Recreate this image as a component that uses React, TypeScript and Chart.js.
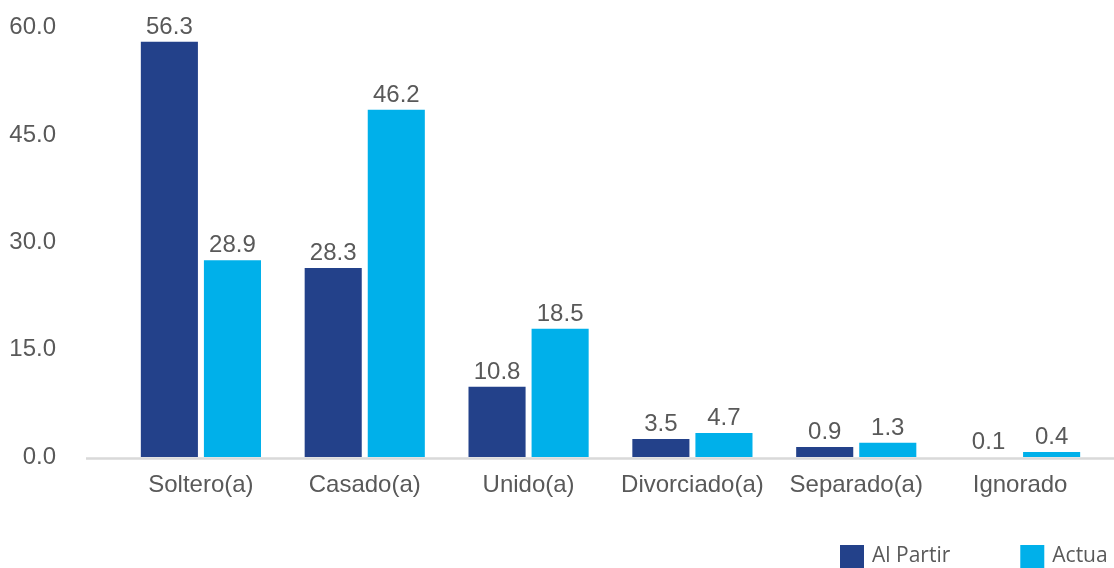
import React, { useEffect, useRef } from "react";
import { Chart, registerables } from "chart.js";

Chart.register(...registerables);

const categories = ["Soltero(a)", "Casado(a)", "Unido(a)", "Divorciado(a)", "Separado(a)", "Ignorado"];
const seriesNames = ["Al Partir", "Actua"];
// bar heights as drawn in the picture
const alPartirValues = [58.0, 26.4, 9.8, 2.5, 1.4, 0.0];
const actuaValues = [27.5, 48.5, 17.9, 3.35, 2.0, 0.7];
// value labels as printed in the picture
const alPartirLabels = ["56.3", "28.3", "10.8", "3.5", "0.9", "0.1"];
const actuaLabels = ["28.9", "46.2", "18.5", "4.7", "1.3", "0.4"];
const yTicks = [0, 15, 30, 45, 60];

const COLORS = ["#23418A", "#00B0EA"];
const TEXT = "#595959";
const FONT = "'Liberation Sans', Arial, sans-serif";

const valueLabelPlugin = {
  id: "valueLabels",
  afterDatasetsDraw(chart: any) {
    const ctx = chart.ctx;
    const labelSets = [alPartirLabels, actuaLabels];
    ctx.save();
    ctx.font = `24px ${FONT}`;
    ctx.fillStyle = TEXT;
    ctx.textAlign = "center";
    ctx.textBaseline = "alphabetic";
    chart.data.datasets.forEach((_ds: any, di: number) => {
      const meta = chart.getDatasetMeta(di);
      meta.data.forEach((bar: any, i: number) => {
        ctx.fillText(labelSets[di][i], bar.x, bar.y - 8);
      });
    });
    ctx.restore();
  },
};

const baselinePlugin = {
  id: "baseline",
  beforeDatasetsDraw(chart: any) {
    const ctx = chart.ctx;
    const y = chart.scales.y.getPixelForValue(0) + 1.5;
    ctx.save();
    ctx.strokeStyle = "#D9D9D9";
    ctx.lineWidth = 2.5;
    ctx.beginPath();
    ctx.moveTo(86, y);
    ctx.lineTo(chart.width, y);
    ctx.stroke();
    ctx.restore();
  },
};

const legendPlugin = {
  id: "customLegend",
  afterDraw(chart: any) {
    const ctx = chart.ctx;
    ctx.save();
    ctx.font = `21px 'Open Sans', sans-serif`;
    ctx.textBaseline = "middle";
    ctx.textAlign = "left";
    let x = 840;
    const top = 545;
    chart.data.datasets.forEach((ds: any) => {
      ctx.fillStyle = ds.backgroundColor;
      ctx.fillRect(x, top, 24, 23);
      ctx.fillStyle = TEXT;
      ctx.fillText(ds.label, x + 32, top + 11);
      x += 32 + ctx.measureText(ds.label).width + 70;
    });
    ctx.restore();
  },
};

export default function App() {
  const ref = useRef<HTMLCanvasElement | null>(null);

  useEffect(() => {
    if (!ref.current) return;
    const chart = new Chart(ref.current, {
      type: "bar",
      data: {
        labels: categories,
        datasets: [
          { label: seriesNames[0], data: alPartirValues, backgroundColor: COLORS[0] },
          { label: seriesNames[1], data: actuaValues, backgroundColor: COLORS[1] },
        ],
      },
      options: {
        animation: false,
        responsive: false,
        maintainAspectRatio: false,
        datasets: {
          bar: { categoryPercentage: 0.77, barPercentage: 0.905 },
        },
        layout: { padding: { top: 27.5, right: 12, bottom: 0, left: 0 } },
        plugins: {
          legend: { display: false },
          tooltip: { enabled: false },
        },
        scales: {
          x: {
            grid: { display: false, drawTicks: false },
            border: { display: false },
            ticks: { color: TEXT, font: { family: FONT, size: 24 }, padding: 14, maxRotation: 0, autoSkip: false },
            afterFit: (scale: any) => {
              scale.height = 111;
              scale.paddingLeft = 0;
              scale.paddingRight = 0;
            },
          },
          y: {
            min: 0,
            max: 60,
            afterBuildTicks: (scale: any) => {
              scale.ticks = yTicks.map((v) => ({ value: v }));
            },
            grid: { display: false, drawTicks: false },
            border: { display: false },
            ticks: {
              color: TEXT,
              font: { family: FONT, size: 24 },
              padding: 63,
              callback: (v: any) => Number(v).toFixed(1),
            },
            afterFit: (scale: any) => {
              scale.width = 119;
              scale.paddingTop = 0;
              scale.paddingBottom = 0;
            },
          },
        },
      },
      plugins: [baselinePlugin, valueLabelPlugin, legendPlugin],
    });
    return () => chart.destroy();
  }, []);

  return (
    <div style={{ position: "absolute", left: 0, top: 0, width: 1114, height: 568, background: "#fff" }}>
      <canvas ref={ref} width={1114} height={568} style={{ display: "block" }} />
    </div>
  );
}
